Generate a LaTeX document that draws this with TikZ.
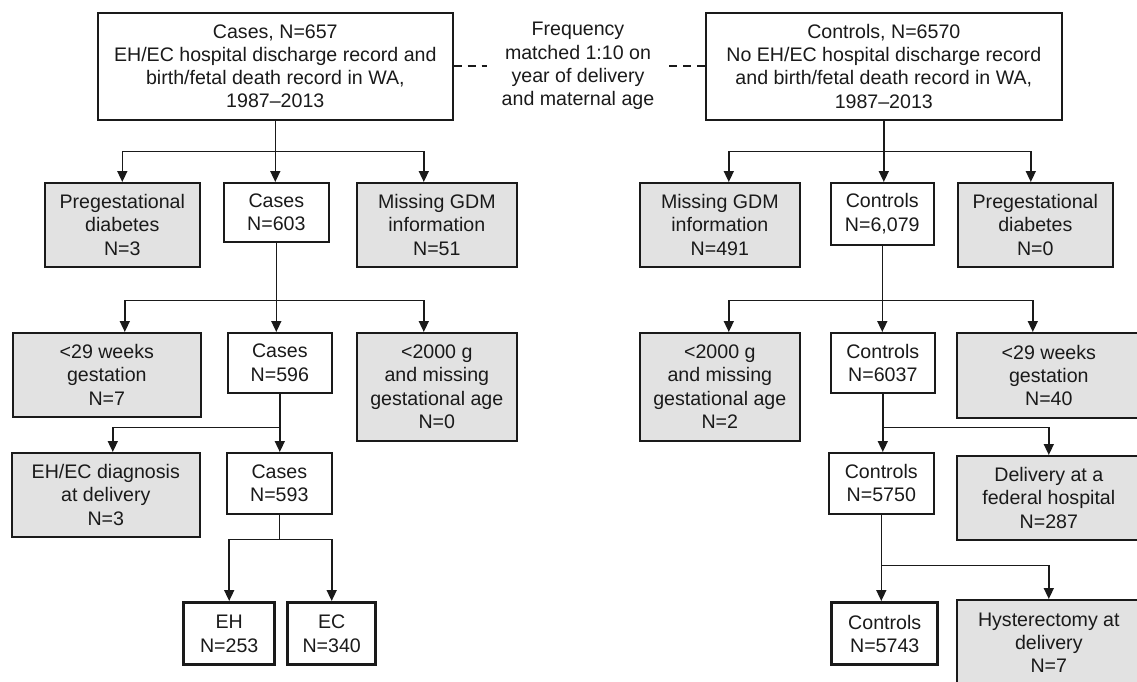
\documentclass[tikz,border=0pt]{standalone}
\usepackage{fontspec}
\setmainfont{Liberation Sans}
\usetikzlibrary{arrows.meta}
\definecolor{ink}{HTML}{1A1A1A}
\definecolor{greyfill}{HTML}{E2E2E2}
\begin{document}
\begin{tikzpicture}[x=1pt,y=-1pt,
  every node/.style={font=\fontsize{19.6}{23.3}\selectfont, text=ink, align=center, inner sep=2pt},
  box/.style={draw=ink, line width=1.6pt, fill=white, anchor=north west},
  gbox/.style={box, fill=greyfill},
  fbox/.style={box, line width=3.4pt},
  sz/.style 2 args={minimum width=#1pt, minimum height=#2pt},
  conn/.style={draw=ink, line width=1.6pt},
  arr/.style={conn, -{Triangle[length=11pt,width=10pt]}},
  dashline/.style={conn, dash pattern=on 8pt off 6pt}
]
\useasboundingbox (0,0) rectangle (1137,682);
\clip (0,0) rectangle (1137,682);

% top row
\node[box, sz={355}{107}] (c0) at (97,12) {Cases, N=657\\EH/EC hospital discharge record and\\birth/fetal death record in WA,\\1987–2013};
\node[box, sz={356}{107}] (k0) at (705,12) {Controls, N=6570\\No EH/EC hospital discharge record\\and birth/fetal death record in WA,\\1987–2013};
\node[inner xsep=15pt] (freq) at (578,66) {Frequency\\matched 1:10 on\\year of delivery\\and maternal age};

% row 2
\node[gbox, sz={155}{84}] (ex1) at (44,182) {Pregestational\\diabetes\\N=3};
\node[box, sz={105}{59}] (c1) at (223,182) {Cases\\N=603};
\node[gbox, sz={160}{84}] (ex2) at (356,182) {Missing GDM\\information\\N=51};
\node[gbox, sz={160}{84}] (rx1) at (639,182) {Missing GDM\\information\\N=491};
\node[box, sz={103}{62}] (k1) at (830,182) {Controls\\N=6,079};
\node[gbox, sz={155}{84}] (rx2) at (957,182) {Pregestational\\diabetes\\N=0};

% row 3
\node[gbox, sz={188}{84}] (ex3) at (12,332) {<29 weeks\\gestation\\N=7};
\node[box, sz={104}{60}] (c2) at (227,332) {Cases\\N=596};
\node[gbox, sz={160}{108}] (ex4) at (356,332) {<2000 g\\and missing\\gestational age\\N=0};
\node[gbox, sz={160}{108}] (rx3) at (639,332) {<2000 g\\and missing\\gestational age\\N=2};
\node[box, sz={104}{60}] (k2) at (830,332) {Controls\\N=6037};
\node[gbox, sz={184}{85}] (rx4) at (956,332) {<29 weeks\\gestation\\N=40};

% row 4
\node[gbox, sz={188}{84}] (ex5) at (11,452) {EH/EC diagnosis\\at delivery\\N=3};
\node[box, sz={105}{61}] (c3) at (226,452) {Cases\\N=593};
\node[box, sz={105}{61}] (k3) at (828,452) {Controls\\N=5750};
\node[gbox, sz={184}{84}] (rx5) at (956,455) {Delivery at a\\federal hospital\\N=287};

% row 5
\node[fbox, sz={91}{62}] (e1) at (182,601) {EH\\N=253};
\node[fbox, sz={88}{62}] (e2) at (286,601) {EC\\N=340};
\node[fbox, sz={106}{62}] (k4) at (830,601) {Controls\\N=5743};
\node[gbox, sz={184}{86}] (rx6) at (956,599) {Hysterectomy at\\delivery\\N=7};

% dashed matching links
\draw[dashline] (c0.east) -- (c0.east -| freq.west);
\draw[dashline] (freq.east |- k0.west) -- (k0.west);

% left connectors
\draw[conn] (c0.south) -- ++(0,31) coordinate (j1);
\draw[arr] (j1) -- (j1 |- c1.north);
\draw[arr] (j1) -| (ex1.north);
\draw[arr] (j1) -| ([xshift=-13pt]ex2.north);

\draw[conn] (c1.south) -- ++(0,58) coordinate (j2);
\draw[arr] (j2) -- (j2 |- c2.north);
\draw[arr] (j2) -| ([xshift=18pt]ex3.north);
\draw[arr] (j2) -| ([xshift=-13pt]ex4.north);

\draw[conn] (c2.south) -- ++(0,34) coordinate (j3);
\draw[arr] (j3) -- (j3 |- c3.north);
\draw[arr] (j3) -| ([xshift=7pt]ex5.north);

\draw[conn] (c3.south) -- ++(0,25) coordinate (j4);
\draw[arr] (j4) -| (e1.north);
\draw[arr] (j4) -| (e2.north);

% right connectors
\draw[conn] (k0.south) -- ++(0,31) coordinate (j5);
\draw[arr] (j5) -- (j5 |- k1.north);
\draw[arr] (j5) -| ([xshift=9pt]rx1.north);
\draw[arr] (j5) -| ([xshift=-4.5pt]rx2.north);

\draw[conn] (k1.south) -- ++(0,55) coordinate (j6);
\draw[arr] (j6) -- (j6 |- k2.north);
\draw[arr] (j6) -| ([xshift=9pt]rx3.north);
\draw[arr] (j6) -| ([xshift=-16pt]rx4.north);

\draw[conn] (k2.south) -- ++(0,34) coordinate (j7);
\draw[arr] (j7) -- (j7 |- k3.north);
\draw[arr] (j7) -| (rx5.north);

\draw[conn] (k3.south) -- ++(0,51) coordinate (j8);
\draw[arr] (j8) -- (j8 |- k4.north);
\draw[arr] (j8) -| (rx6.north);
\end{tikzpicture}
\end{document}
